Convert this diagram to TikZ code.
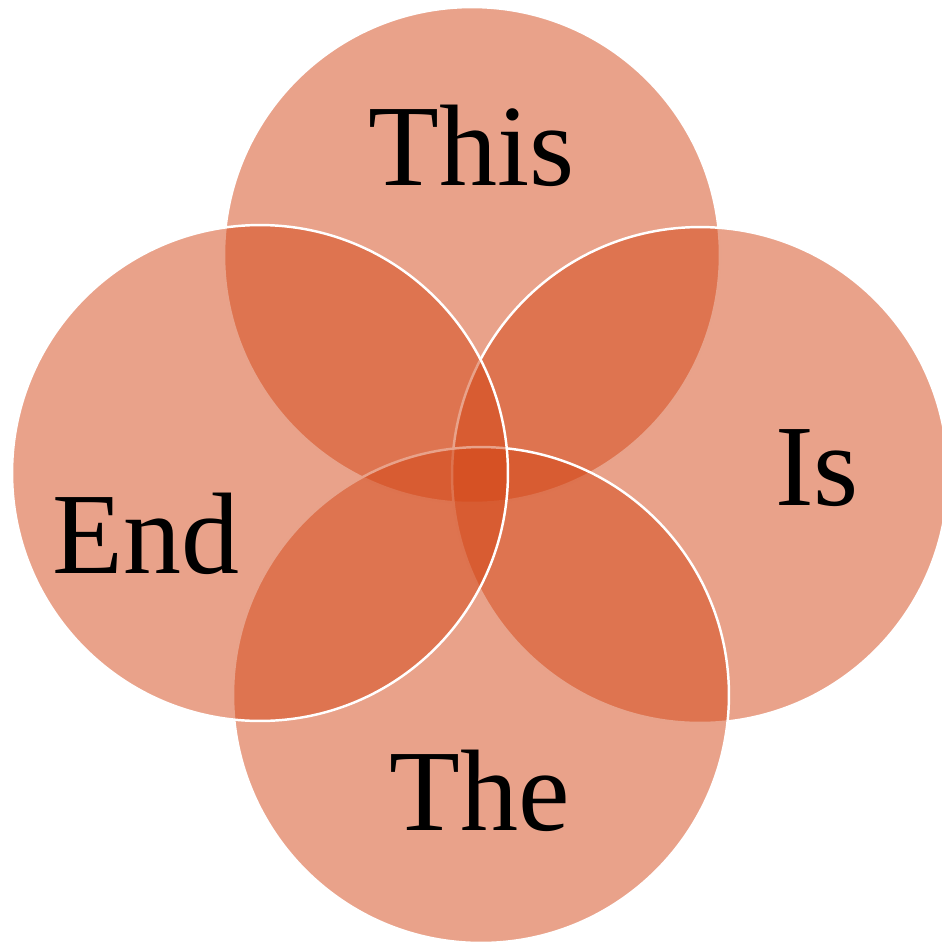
\documentclass[tikz,border=0pt]{standalone}
\usepackage{fontspec}
\setmainfont{Liberation Serif}
\usepackage{xcolor}
\usepackage{tikz}
\usetikzlibrary{positioning}
\definecolor{vennfill}{RGB}{211,70,22}
\tikzset{
  ring/.style={circle,draw=white,line width=1.4pt,fill=vennfill,fill opacity=0.5,minimum size=9.92cm,inner sep=0pt},
  word/.style={font=\fontsize{66}{78}\selectfont,text=black,anchor=base,inner sep=0pt},
}
\begin{document}
\begin{tikzpicture}[x=0.02cm,y=-0.02cm]
  \useasboundingbox (0,0) rectangle (941,944);
  % circles, later ones lie over earlier ones
  \node[ring] (this) at (472,255) {};
  \node[ring] (is)   at (700,475) {};
  \node[ring] (the)  at (481,695) {};
  \node[ring] (end)  at (260,473) {};
  \node[word] (wthis) at (472,185) {This};
  \node[word] (wis)   at (817,505) {Is};
  \node[word] (wthe)  at (480,830) {The};
  \node[word] (wend)  at (146,573) {End};
\end{tikzpicture}
\end{document}
